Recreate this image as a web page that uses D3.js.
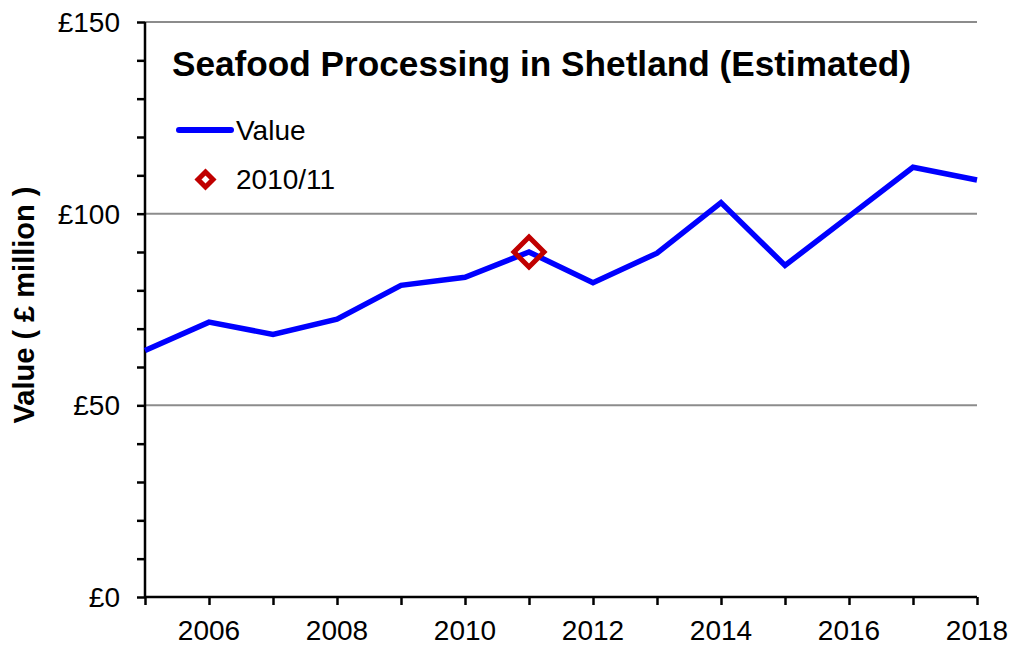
<!DOCTYPE html>
<html><head><meta charset="utf-8">
<script src="https://cdn.jsdelivr.net/npm/d3@7"></script>
<style>body{margin:0;background:#fff}svg{display:block;font-family:"Liberation Sans",Arial,sans-serif}</style>
</head><body>
<svg id="c" width="1015" height="649"></svg>
<script>
const years = [2005,2006,2007,2008,2009,2010,2011,2012,2013,2014,2015,2016,2017,2018];
const values = [64.3,71.7,68.5,72.5,81.3,83.4,90.0,82.0,89.7,102.9,86.5,99.3,112.1,108.8];
const highlightYear = [2011];
const highlightValue = [90.0];
const yTickValues = [0,50,100,150];
const yTickLabels = ["£0","£50","£100","£150"];
const xTickLabels = [2006,2008,2010,2012,2014,2016,2018];
const title = "Seafood Processing in Shetland (Estimated)";
const yTitle = "Value ( £ million )";
const legendLabels = ["Value","2010/11"];

const svg = d3.select("#c");
const L=145,R=977,T=22,B=597;
const x = d3.scaleLinear().domain([2005,2018]).range([L,R]);
const y = d3.scaleLinear().domain([0,150]).range([B,T]);

// gridlines
svg.append("g").selectAll("line").data(yTickValues.filter(v=>v>0)).join("line")
  .attr("x1",L).attr("x2",R).attr("y1",d=>y(d)).attr("y2",d=>y(d))
  .attr("stroke","#8c8c8c").attr("stroke-width",2);

// y axis
const yAxis = d3.axisLeft(y).tickValues(d3.range(0,151,10)).tickSize(8).tickFormat(()=> "");
const gy = svg.append("g").attr("transform",`translate(${L},0)`).call(yAxis);
gy.select(".domain").attr("stroke","#000").attr("stroke-width",2.5).attr("d",`M0,${B}V${T}`);
gy.selectAll(".tick line").attr("stroke","#000").attr("stroke-width",2.5);
svg.append("g").selectAll("text").data(yTickValues).join("text")
  .attr("x",120).attr("y",d=>y(d)).attr("dy","0.36em").attr("text-anchor","end")
  .attr("font-size",28).text((d,i)=>yTickLabels[i]);

// x axis
const xAxis = d3.axisBottom(x).tickValues(years).tickSize(8).tickFormat(()=> "");
const gx = svg.append("g").attr("transform",`translate(0,${B})`).call(xAxis);
gx.select(".domain").attr("stroke","#000").attr("stroke-width",2.5).attr("d",`M${L},0H${R}`);
gx.selectAll(".tick line").attr("stroke","#000").attr("stroke-width",2.5);
svg.append("g").selectAll("text").data(xTickLabels).join("text")
  .attr("x",d=>x(d)).attr("y",640).attr("text-anchor","middle")
  .attr("font-size",28).text(d=>d);

// line
const line = d3.line().x((d,i)=>x(years[i])).y(d=>y(d));
svg.append("path").datum(values).attr("d",line).attr("fill","none")
  .attr("stroke","#0000ff").attr("stroke-width",5.5).attr("stroke-linejoin","miter");

// highlight marker
const diamond = (cx,cy,r)=>`M${cx},${cy-r}L${cx+r},${cy}L${cx},${cy+r}L${cx-r},${cy}Z`;
svg.append("g").selectAll("path").data(highlightValue).join("path")
  .attr("d",(d,i)=>diamond(x(highlightYear[i]),y(d),15))
  .attr("fill","none").attr("stroke","#c00000").attr("stroke-width",5);

// title
svg.append("text").attr("x",172).attr("y",76).attr("font-size",35.2).attr("font-weight","bold").text(title);

// legend
svg.append("line").attr("x1",179).attr("x2",231).attr("y1",130).attr("y2",130)
  .attr("stroke","#0000ff").attr("stroke-width",6).attr("stroke-linecap","round");
svg.append("text").attr("x",236).attr("y",140).attr("font-size",28).text(legendLabels[0]);
svg.append("path").attr("d",diamond(205.5,179.5,7.5)).attr("fill","none").attr("stroke","#c00000").attr("stroke-width",5);
svg.append("text").attr("x",236).attr("y",189).attr("font-size",28).text(legendLabels[1]);

// y title
svg.append("text").attr("transform",`translate(34,305) rotate(-90)`).attr("text-anchor","middle")
  .attr("font-size",29).attr("font-weight","bold").text(yTitle);
</script>
</body></html>
